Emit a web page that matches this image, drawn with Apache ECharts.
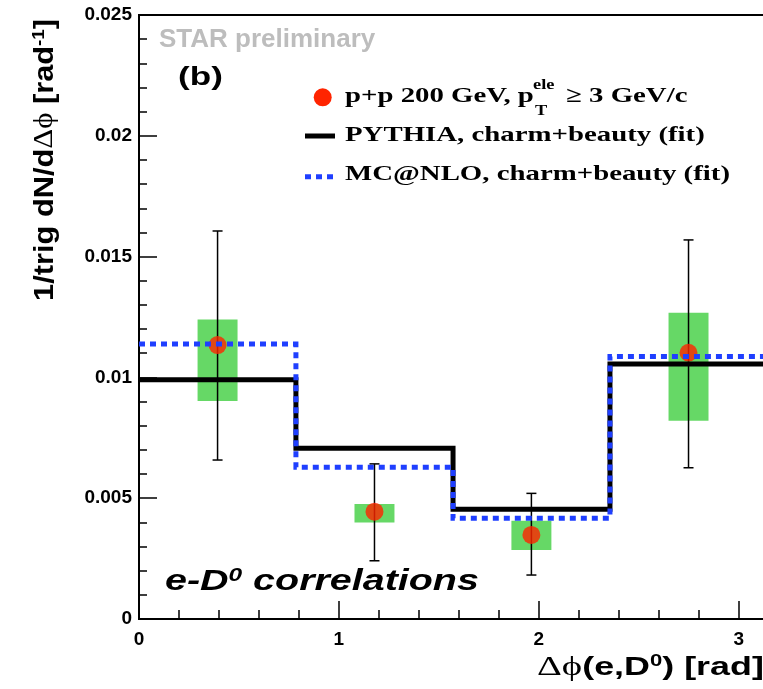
<!DOCTYPE html>
<html>
<head>
<meta charset="utf-8">
<style>
  html, body { margin: 0; padding: 0; background: #fff; }
  #chart { width: 763px; height: 689px; }
</style>
<script src="https://cdn.jsdelivr.net/npm/echarts@6/dist/echarts.min.js"></script>
</head>
<body>
<div id="chart"></div>
<script>
// e-D0 azimuthal correlation, p+p 200 GeV, with PYTHIA and MC@NLO fits

// histogram bin edges in delta-phi (rad)
const binEdges = [0, 0.785, 1.571, 2.356, 3.142];
// fitted model templates, one value per bin
const pythiaFit = [0.0099, 0.00707, 0.00454, 0.01055];
const mcnloFit = [0.01138, 0.00628, 0.00417, 0.01087];

// measured points (bin centres)
const dphi = [0.393, 1.178, 1.963, 2.749];
const yields = [0.01134, 0.00444, 0.00348, 0.01102];
const statLow = [0.00658, 0.00241, 0.00182, 0.00626];
const statHigh = [0.01606, 0.00642, 0.00520, 0.01569];
const sysLow = [0.00902, 0.00399, 0.00286, 0.00821];
const sysHigh = [0.01240, 0.00476, 0.00407, 0.01268];
const sysHalfWidth = 0.1;

// axis tick labels
const xTickLabels = ['0', '1', '2', '3'];
const yTickLabels = ['0', '0.005', '0.01', '0.015', '0.02', '0.025'];

const SANS = 'Liberation Sans, Arial, sans-serif';
const SERIF = 'Liberation Serif, DejaVu Serif, Times New Roman, serif';

function stepData(values) {
  const d = values.map((v, i) => [binEdges[i], v]);
  d.push([binEdges[binEdges.length - 1], values[values.length - 1]]);
  return d;
}

const pointData = dphi.map((x, i) => [x, yields[i]]);
const sysData = dphi.map((x, i) => [x, sysLow[i], sysHigh[i]]);
const statData = dphi.map((x, i) => [x, statLow[i], statHigh[i]]);

function renderSys(params, api) {
  const x = api.value(0);
  const a = api.coord([x - sysHalfWidth, api.value(2)]);
  const b = api.coord([x + sysHalfWidth, api.value(1)]);
  return {
    type: 'rect',
    shape: { x: a[0], y: a[1], width: b[0] - a[0], height: b[1] - a[1] },
    style: { fill: '#66d866' }
  };
}

function renderStat(params, api) {
  const x = api.value(0);
  const top = api.coord([x, api.value(2)]);
  const bot = api.coord([x, api.value(1)]);
  const cap = 5;
  const st = { stroke: '#000', lineWidth: 1.5 };
  return {
    type: 'group',
    children: [
      { type: 'line', shape: { x1: top[0], y1: top[1], x2: bot[0], y2: bot[1] }, style: st },
      { type: 'line', shape: { x1: top[0] - cap, y1: top[1], x2: top[0] + cap, y2: top[1] }, style: st },
      { type: 'line', shape: { x1: bot[0] - cap, y1: bot[1], x2: bot[0] + cap, y2: bot[1] }, style: st }
    ]
  };
}

const chart = echarts.init(document.getElementById('chart'), null, { renderer: 'canvas' });

const option = {
  animation: false,
  backgroundColor: '#fff',
  grid: {
    left: 139, top: 15, width: 628, bottom: 70,
    outerBoundsMode: 'none', containLabel: false,
    show: true, borderColor: '#000', borderWidth: 2, backgroundColor: 'transparent'
  },
  xAxis: [
    {
      type: 'value', min: 0, max: Math.PI, interval: 1,
      position: 'bottom',
      axisLine: { lineStyle: { color: '#000', width: 2 } },
      axisTick: { inside: true, length: 18, lineStyle: { color: '#000', width: 1.5 } },
      splitLine: { show: false },
      axisLabel: {
        margin: 11, color: '#000', fontFamily: SANS, fontWeight: 'bold', fontSize: 19,
        showMaxLabel: false,
        formatter: v => xTickLabels[Math.round(v)] ?? ''
      }
    },
    {
      type: 'value', min: 0, max: Math.PI, interval: 0.2,
      position: 'bottom',
      axisLine: { show: false },
      axisTick: { inside: true, length: 9, lineStyle: { color: '#000', width: 1.5 } },
      axisLabel: { show: false },
      splitLine: { show: false }
    }
  ],
  yAxis: {
    type: 'value', min: 0, max: 0.025, interval: 0.005,
    axisLine: { show: true, lineStyle: { color: '#000', width: 2 } },
    axisTick: { show: true, inside: true, length: 18, lineStyle: { color: '#000', width: 1.5 } },
    minorTick: { show: true, splitNumber: 5, length: 8, lineStyle: { color: '#000', width: 1.5 } },
    splitLine: { show: false },
    minorSplitLine: { show: false },
    axisLabel: {
      margin: 7, color: '#000', fontFamily: SANS, fontWeight: 'bold', fontSize: 19,
      formatter: v => yTickLabels[Math.round(v / 0.005)] ?? ''
    }
  },
  series: [
    {
      name: 'sys', type: 'custom', z: 1, renderItem: renderSys,
      data: sysData, encode: { x: 0, y: [1, 2] }
    },
    {
      name: 'stat', type: 'custom', z: 2, renderItem: renderStat,
      data: statData, encode: { x: 0, y: [1, 2] }
    },
    {
      name: 'p+p 200 GeV', type: 'scatter', z: 3,
      symbol: 'circle', symbolSize: 18,
      itemStyle: { color: '#ff2400' },
      data: pointData
    },
    {
      name: 'PYTHIA, charm+beauty (fit)', type: 'line', z: 4,
      step: 'end', showSymbol: false, symbol: 'none',
      lineStyle: { color: '#000', width: 5, cap: 'butt', join: 'miter' },
      data: stepData(pythiaFit)
    },
    {
      name: 'MC@NLO, charm+beauty (fit)', type: 'line', z: 5,
      step: 'end', showSymbol: false, symbol: 'none',
      lineStyle: { color: '#1f3fff', width: 5, type: [6, 5], cap: 'butt', join: 'miter' },
      data: stepData(mcnloFit)
    }
  ],
  graphic: [
    // y-axis title
    {
      type: 'text', x: 45, y: 160, rotation: Math.PI / 2, scaleX: 1.1,
      style: {
        text: '{a|1/trig dN/d}{g|Δϕ}{a| [rad}{s|-1}{a|]}',
        align: 'center', verticalAlign: 'middle',
        rich: {
          a: { font: 'bold 28px ' + SANS, fill: '#000' },
          g: { font: '28px ' + SERIF, fill: '#000' },
          s: { font: 'bold 17px ' + SANS, fill: '#000', verticalAlign: 'top' }
        }
      }
    },
    // x-axis title
    {
      type: 'text', x: 537, y: 668, scaleX: 1.38,
      style: {
        text: '{g|Δϕ}{a|(e,D}{s|0}{a|) [rad]}',
        align: 'left', verticalAlign: 'middle',
        rich: {
          a: { font: 'bold 26px ' + SANS, fill: '#000' },
          g: { font: '28px ' + SERIF, fill: '#000' },
          s: { font: 'bold 16px ' + SANS, fill: '#000', verticalAlign: 'top' }
        }
      }
    },
    {
      type: 'text', x: 159, y: 40,
      style: { text: 'STAR preliminary', font: 'bold 26px ' + SANS, fill: '#bdbdbd', align: 'left', verticalAlign: 'middle' }
    },
    {
      type: 'text', x: 178, y: 78, scaleX: 1.35,
      style: { text: '(b)', font: 'bold 26px ' + SANS, fill: '#000', align: 'left', verticalAlign: 'middle' }
    },
    {
      type: 'text', x: 165, y: 582, scaleX: 1.36,
      style: {
        text: '{a|e-D}{s|0}{a| correlations}',
        align: 'left', verticalAlign: 'middle',
        rich: {
          a: { font: 'italic bold 29px ' + SANS, fill: '#000' },
          s: { font: 'italic bold 18px ' + SANS, fill: '#000', verticalAlign: 'top' }
        }
      }
    },
    // legend
    { type: 'circle', shape: { cx: 322.7, cy: 97.3, r: 9 }, style: { fill: '#ff2400' } },
    {
      type: 'text', x: 345, y: 96, scaleX: 1.31,
      style: { text: 'p+p 200 GeV, p', font: 'bold 22px ' + SERIF, fill: '#000', align: 'left', verticalAlign: 'middle' }
    },
    {
      type: 'text', x: 533, y: 85, scaleX: 1.31,
      style: { text: 'ele', font: 'bold 14px ' + SERIF, fill: '#000', align: 'left', verticalAlign: 'middle' }
    },
    {
      type: 'text', x: 535, y: 111, scaleX: 1.31,
      style: { text: 'T', font: 'bold 14px ' + SERIF, fill: '#000', align: 'left', verticalAlign: 'middle' }
    },
    {
      type: 'text', x: 566, y: 96, scaleX: 1.31,
      style: { text: '≥ 3 GeV/c', font: 'bold 22px ' + SERIF, fill: '#000', align: 'left', verticalAlign: 'middle' }
    },
    { type: 'line', shape: { x1: 305, y1: 136, x2: 335, y2: 136 }, style: { stroke: '#000', lineWidth: 5 } },
    {
      type: 'text', x: 345, y: 135, scaleX: 1.31,
      style: { text: 'PYTHIA, charm+beauty (fit)', font: 'bold 22px ' + SERIF, fill: '#000', align: 'left', verticalAlign: 'middle' }
    },
    { type: 'line', shape: { x1: 305, y1: 176.7, x2: 337, y2: 176.7 }, style: { stroke: '#1f3fff', lineWidth: 5, lineDash: [6, 5] } },
    {
      type: 'text', x: 345, y: 174, scaleX: 1.31,
      style: { text: 'MC@NLO, charm+beauty (fit)', font: 'bold 22px ' + SERIF, fill: '#000', align: 'left', verticalAlign: 'middle' }
    }
  ]
};

chart.setOption(option);
</script>
</body>
</html>
